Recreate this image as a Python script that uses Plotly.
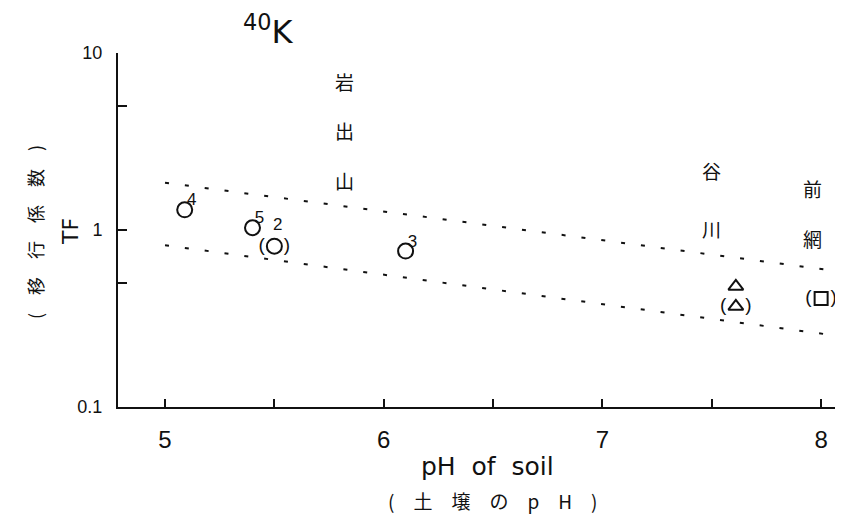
import plotly.graph_objects as go

# ---- data ----
iwade_ph = [5.09, 5.40, 6.10]
iwade_tf = [1.30, 1.03, 0.76]
iwade_lab = ["4", "5", "3"]
iwade_br_ph = [5.50]
iwade_br_tf = [0.81]
iwade_br_lab = ["2"]

tani_ph = [7.61]
tani_tf = [0.48]
tani_br_ph = [7.61]
tani_br_tf = [0.37]

maea_br_ph = [8.00]
maea_br_tf = [0.41]

band_ph = [5.0, 8.1]
band_upper = [1.85, 0.58]
band_lower = [0.82, 0.25]

x_ticks = [5, 5.5, 6, 6.5, 7, 7.5, 8]
x_ticktext = ["5", " ", "6", " ", "7", " ", "8"]
y_ticks = [0.1, 0.5, 1, 5, 10]
y_ticktext = ["0.1", " ", "1", " ", "10"]

BLACK = "#111111"
NUM_FONT = "Liberation Sans Narrow, Liberation Sans, Arial"
CJK = "Noto Sans CJK JP"

fig = go.Figure()

# band lines
for yy in (band_upper, band_lower):
    fig.add_trace(go.Scatter(x=band_ph, y=yy, mode="lines",
                             line=dict(color=BLACK, width=2, dash="4px,16px"),
                             hoverinfo="skip", showlegend=False))

circ = dict(symbol="circle-open", size=15, color=BLACK, line=dict(width=2, color=BLACK))
fig.add_trace(go.Scatter(x=iwade_ph, y=iwade_tf, mode="markers", marker=circ,
                         showlegend=False))
# sample-number labels just at the upper right of each circle
fig.add_trace(go.Scatter(x=[v + 0.01 for v in iwade_ph], y=[v * 1.12 for v in iwade_tf],
                         mode="text", text=iwade_lab, textposition="middle right",
                         textfont=dict(size=17, color=BLACK, family=NUM_FONT),
                         showlegend=False))
fig.add_trace(go.Scatter(x=iwade_br_ph, y=iwade_br_tf, mode="markers", marker=circ,
                         showlegend=False))
fig.add_trace(go.Scatter(x=[v + 0.015 for v in iwade_br_ph], y=[v * 1.30 for v in iwade_br_tf],
                         mode="text", text=iwade_br_lab, textposition="middle center",
                         textfont=dict(size=17, color=BLACK, family=NUM_FONT),
                         showlegend=False))

tri = dict(symbol="triangle-up-open", size=13, color=BLACK, line=dict(width=2, color=BLACK))
fig.add_trace(go.Scatter(x=tani_ph, y=tani_tf, mode="markers", marker=tri, showlegend=False))
fig.add_trace(go.Scatter(x=tani_br_ph, y=tani_br_tf, mode="markers", marker=tri, showlegend=False))

sq = dict(symbol="square-open", size=13, color=BLACK, line=dict(width=2, color=BLACK))
fig.add_trace(go.Scatter(x=maea_br_ph, y=maea_br_tf, mode="markers", marker=sq, showlegend=False))

# parentheses around bracketed points
br_x = iwade_br_ph + tani_br_ph + maea_br_ph
br_y = iwade_br_tf + tani_br_tf + maea_br_tf
fig.add_trace(go.Scatter(x=br_x, y=br_y, mode="text",
                         text=["(\u2002\u2002)"] * len(br_x), textposition="middle center",
                         textfont=dict(size=19, color=BLACK, family=NUM_FONT),
                         showlegend=False))

fig.update_xaxes(type="linear", range=[4.785, 8.1], tickvals=x_ticks, ticktext=x_ticktext,
                 ticks="inside", ticklen=8, tickwidth=2, tickcolor=BLACK,
                 showline=True, linecolor=BLACK, linewidth=2, showgrid=False, zeroline=False,
                 tickfont=dict(size=24, color=BLACK, family=NUM_FONT), ticklabelstandoff=10)
fig.update_yaxes(type="log", range=[-1, 1], tickvals=y_ticks, ticktext=y_ticktext,
                 ticks="inside", ticklen=9, tickwidth=2, tickcolor=BLACK,
                 showline=True, linecolor=BLACK, linewidth=2, showgrid=False, zeroline=False,
                 tickfont=dict(size=18, color=BLACK, family=NUM_FONT), ticklabelstandoff=10)

ann = []
def vtext(chars, x, ys, size=19):
    for c, y in zip(chars, ys):
        ann.append(dict(x=x, y=y, xref="x", yref="paper", text=c, showarrow=False,
                        xanchor="center", yanchor="middle",
                        font=dict(size=size, color=BLACK, family=CJK)))

# paper y = (407 - py)/354 (screen px of reference)
vtext("岩出山", 5.82, [(407 - 82) / 354, (407 - 131) / 354, (407 - 180) / 354])
vtext("谷川", 7.50, [(407 - 170) / 354, (407 - 228) / 354])
vtext("前網", 7.96, [(407 - 188) / 354, (407 - 238) / 354])

def ptext(px, py, text, size, family, angle=0):
    ann.append(dict(x=(px - 118) / 725, y=(407 - py) / 354, xref="paper", yref="paper",
                    text=text, showarrow=False, textangle=angle,
                    xanchor="center", yanchor="middle",
                    font=dict(size=size, color=BLACK, family=family)))

ptext(268, 30, "<sup>40</sup>K", 32, "DejaVu Sans")
ptext(70, 232, "TF", 22, "DejaVu Sans", -90)
ptext(35, 232, "(\u3000移\u3000行\u3000係\u3000数\u3000)", 18, CJK, -90)
ptext(487, 466, "pH\u00a0\u00a0of\u00a0\u00a0soil", 25, "DejaVu Sans")
ptext(492, 500, "(\u3000土\u3000壌\u3000の\u3000p\u3000H\u3000)", 19, CJK)

# browser body margin is 8px -> shift plot so the plot area lands at x 118..843, y 53..407
fig.update_layout(width=835, height=512, margin=dict(l=110, r=0, t=45, b=113),
                  plot_bgcolor="white", paper_bgcolor="white", annotations=ann,
                  showlegend=False)

fig.write_html("out.html")
